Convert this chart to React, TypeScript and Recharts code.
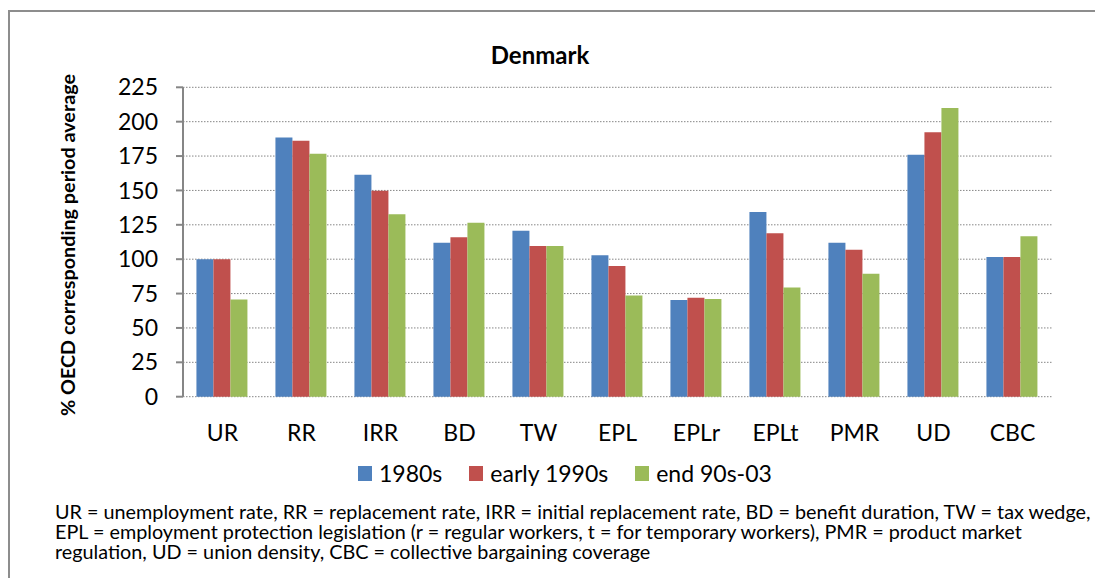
import React from 'react';
import {
  BarChart,
  Bar,
  XAxis,
  YAxis,
  CartesianGrid,
  Legend,
  Label,
} from 'recharts';

const categories = ['UR', 'RR', 'IRR', 'BD', 'TW', 'EPL', 'EPLr', 'EPLt', 'PMR', 'UD', 'CBC'];
const s1980s = [100, 188.5, 161.4, 112, 120.7, 102.8, 70.4, 134.3, 112, 175.9, 101.6];
const sEarly1990s = [100, 186.1, 149.8, 115.9, 109.6, 95.1, 71.9, 118.8, 106.9, 192.4, 101.6];
const sEnd90s03 = [70.7, 176.6, 132.6, 126.5, 109.6, 73.6, 71.1, 79.4, 89.5, 210, 116.6];
const yTicks = [0, 25, 50, 75, 100, 125, 150, 175, 200, 225];
const boundaryTicks = [0, 1, 2, 3, 4, 5, 6, 7, 8, 9, 10, 11];

const seriesInfo = [
  { key: 'a', name: '1980s', color: '#4F81BD' },
  { key: 'b', name: 'early 1990s', color: '#C0504D' },
  { key: 'c', name: 'end 90s-03', color: '#9BBB59' },
];

const data = categories.map((cat, i) => ({
  cat,
  a: s1980s[i],
  b: sEarly1990s[i],
  c: sEnd90s03[i],
}));

const FONT = 'Lato, "Open Sans", sans-serif';
const AXIS_GREY = '#868686';

const footnote = [
  'UR = unemployment rate, RR = replacement rate, IRR = initial replacement rate, BD = benefit duration, TW = tax wedge,',
  'EPL = employment protection legislation (r = regular workers, t = for temporary workers), PMR = product market',
  'regulation, UD = union density, CBC = collective bargaining coverage',
];

const LegendContent = () => (
  <div style={{ display: 'flex', alignItems: 'center', fontFamily: FONT, fontSize: 23, color: '#000' }}>
    {seriesInfo.map((s) => (
      <div key={s.key} style={{ display: 'flex', alignItems: 'center', marginRight: 27 }}>
        <span style={{ display: 'inline-block', width: 14, height: 15, background: s.color, marginRight: 7 }} />
        <span>{s.name}</span>
      </div>
    ))}
  </div>
);

export default function App() {
  return (
    <div
      style={{
        position: 'relative',
        top: 2,
        width: 1095,
        height: 570,
        borderTop: '2px solid #8d8d8d',
        borderLeft: '2px solid #8d8d8d',
        background: '#fff',
        fontFamily: FONT,
      }}
    >
      <div
        style={{
          position: 'absolute',
          left: 0,
          right: 0,
          top: 28,
          width: 1060,
          textAlign: 'center',
          fontWeight: 700,
          fontSize: 24,
          color: '#000',
        }}
      >
        Denmark
      </div>
      <div style={{ position: 'absolute', left: 0, top: 0 }}>
        <BarChart
          width={1090}
          height={560}
          data={data}
          margin={{ top: 75.3, right: 48, bottom: 115.3, left: 0 }}
          barGap={0}
          barCategoryGap="17%"
        >
          <CartesianGrid
            xAxisId="cat"
            vertical={false}
            stroke={AXIS_GREY}
            strokeDasharray="1.5 1.5"
          />
          <XAxis
            xAxisId="grid"
            type="number"
            domain={[0, 11]}
            ticks={boundaryTicks}
            allowDataOverflow
            tick={false}
            height={0}
            tickSize={8}
            stroke={AXIS_GREY}
            axisLine={{ stroke: AXIS_GREY, strokeWidth: 2 }}
            tickLine={{ stroke: AXIS_GREY, strokeWidth: 2 }}
          />
          <XAxis
            xAxisId="cat"
            dataKey="cat"
            axisLine={false}
            tickLine={false}
            height={60}
            tickSize={8}
            tickMargin={20}
            interval={0}
            tick={{ fontSize: 23, fill: '#000', fontFamily: FONT }}
          />
          <YAxis
            domain={[0, 225]}
            ticks={yTicks}
            width={173}
            tickSize={7}
            tickMargin={18}
            interval={0}
            axisLine={{ stroke: AXIS_GREY, strokeWidth: 2 }}
            tickLine={{ stroke: AXIS_GREY, strokeWidth: 2 }}
            tick={{ fontSize: 23, fill: '#000', fontFamily: FONT }}
          >
            <Label
              content={({ viewBox }: any) => {
                const cx = 57;
                const cy = viewBox.y + viewBox.height / 2 + 3;
                return (
                  <text
                    x={cx}
                    y={cy}
                    transform={`rotate(-90, ${cx}, ${cy})`}
                    textAnchor="middle"
                    dominantBaseline="central"
                    fontFamily={FONT}
                    fontWeight={700}
                    fontSize={19.8}
                    fill="#000"
                  >
                    % OECD corresponding period average
                  </text>
                );
              }}
            />
          </YAxis>
          <Legend
            layout="horizontal"
            verticalAlign="middle"
            align="center"
            content={<LegendContent />}
            wrapperStyle={{ left: 348, top: 447, width: 520 }}
          />
          {seriesInfo.map((s) => (
            <Bar
              key={s.key}
              xAxisId="cat"
              dataKey={s.key}
              name={s.name}
              fill={s.color}
              isAnimationActive={false}
            />
          ))}
        </BarChart>
      </div>
      <div
        style={{
          position: 'absolute',
          left: 45,
          top: 489,
          fontSize: 19.8,
          lineHeight: '20px',
          color: '#000',
          whiteSpace: 'pre',
        }}
      >
        {footnote.join('\n')}
      </div>
    </div>
  );
}
